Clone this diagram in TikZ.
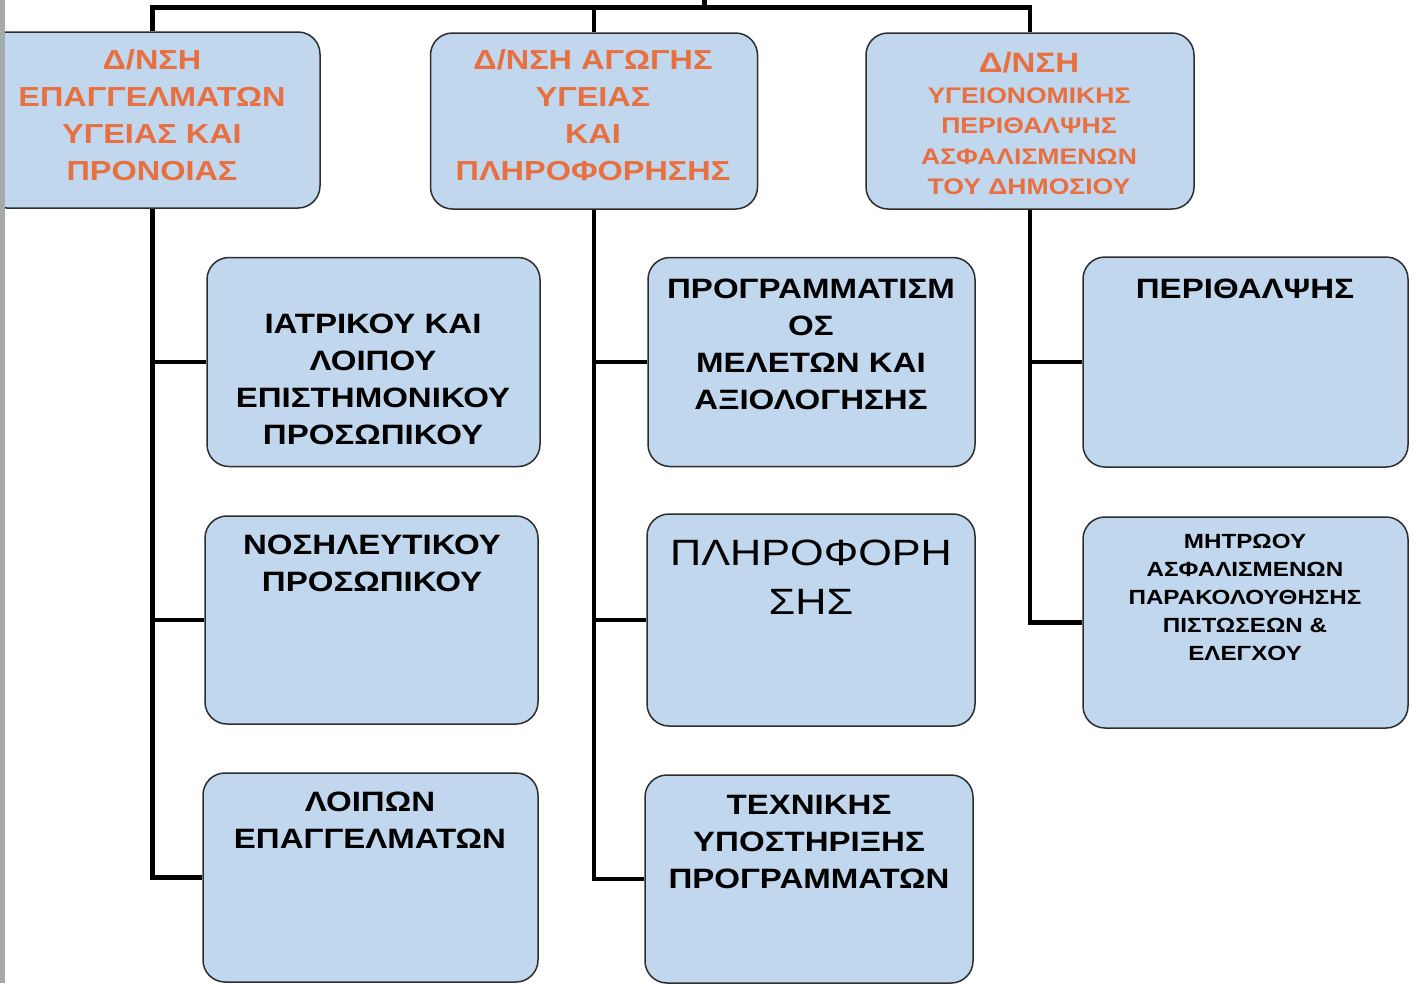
\documentclass[tikz,border=0pt]{standalone}
\usepackage{fontspec}
\newfontfamily\boxfont{Liberation Sans}[FakeStretch=1.18]
\definecolor{boxfill}{RGB}{193,215,238}
\definecolor{boxline}{RGB}{45,45,45}
\definecolor{headtext}{RGB}{232,112,64}
\definecolor{edgegray}{RGB}{165,170,170}
\tikzset{
  unitbox/.style={draw=boxline, line width=1.5pt, fill=boxfill, rounded corners=22pt,
    inner sep=0pt},
  headlbl/.style={text=headtext, align=center, inner sep=0pt,
    font=\boxfont\bfseries\fontsize{27.5}{37}\selectfont},
  unitlbl/.style={text=black, align=center, inner sep=0pt,
    font=\boxfont\bfseries\fontsize{28}{37}\selectfont},
  wire/.style={line width=4.5pt, black, line join=miter}
}
\begin{document}
\begin{tikzpicture}[x=1pt, y=-1pt]
\useasboundingbox (0,0) rectangle (1416,983);
\clip (0,0) rectangle (1416,983);
\fill[white] (0,0) rectangle (1416,983);

% directorates
\node[unitbox, minimum width=335pt, minimum height=176pt] (d1) at (152.5,120) {};
\node[unitbox, minimum width=327pt, minimum height=176pt] (d2) at (594,121) {};
\node[unitbox, minimum width=328pt, minimum height=176pt] (d3) at (1030,121) {};

% departments
\node[unitbox, minimum width=333pt, minimum height=209pt] (a1) at (373.5,362) {};
\node[unitbox, minimum width=333pt, minimum height=208pt] (a2) at (371.5,620) {};
\node[unitbox, minimum width=335pt, minimum height=209pt] (a3) at (370.5,877.5) {};
\node[unitbox, minimum width=327pt, minimum height=209pt] (b1) at (811.5,362) {};
\node[unitbox, minimum width=328pt, minimum height=212pt] (b2) at (811,620) {};
\node[unitbox, minimum width=328pt, minimum height=208pt] (b3) at (809,879) {};
\node[unitbox, minimum width=325pt, minimum height=210pt] (c1) at (1245.5,362) {};
\node[unitbox, minimum width=325pt, minimum height=211pt] (c2) at (1245.5,622.5) {};

% connectors
\coordinate (root) at (704.5,-5);
\coordinate (bus) at (0,7.5);
\draw[wire] (d1.north) -- (d1.north |- bus) -- (d3.north |- bus) -- (d3.north);
\draw[wire] (d2.north) -- (d2.north |- bus);
\draw[wire] (root) -- (root |- bus);
\draw[wire] (d1.south) -- (d1.south |- a3.west) -- (a3.west);
\draw[wire] (d1.south |- a1.west) -- (a1.west);
\draw[wire] (d1.south |- a2.west) -- (a2.west);
\draw[wire] (d2.south) -- (d2.south |- b3.west) -- (b3.west);
\draw[wire] (d2.south |- b1.west) -- (b1.west);
\draw[wire] (d2.south |- b2.west) -- (b2.west);
\draw[wire] (d3.south) -- (d3.south |- c2.west) -- (c2.west);
\draw[wire] (d3.south |- c1.west) -- (c1.west);

% labels
\node[headlbl] (t-d1) at (152,115) {Δ/ΝΣΗ\\ΕΠΑΓΓΕΛΜΑΤΩΝ\\ΥΓΕΙΑΣ ΚΑΙ\\ΠΡΟΝΟΙΑΣ};
\node[headlbl] (t-d2) at (593,115.5) {Δ/ΝΣΗ ΑΓΩΓΗΣ\\ΥΓΕΙΑΣ\\ΚΑΙ\\ΠΛΗΡΟΦΟΡΗΣΗΣ};
\node[headlbl, font=\boxfont\bfseries\fontsize{22.5}{30.5}\selectfont] (t-d3) at (1029,123.5)
  {{\fontsize{28}{30.5}\selectfont Δ/ΝΣΗ}\\ΥΓΕΙΟΝΟΜΙΚΗΣ\\ΠΕΡΙΘΑΛΨΗΣ\\ΑΣΦΑΛΙΣΜΕΝΩΝ\\ΤΟΥ ΔΗΜΟΣΙΟΥ};

\node[unitlbl] (t-a1) at (373,379.5) {ΙΑΤΡΙΚΟΥ ΚΑΙ\\ΛΟΙΠΟΥ\\ΕΠΙΣΤΗΜΟΝΙΚΟΥ\\ΠΡΟΣΩΠΙΚΟΥ};
\node[unitlbl] (t-a2) at (372,563.5) {ΝΟΣΗΛΕΥΤΙΚΟΥ\\ΠΡΟΣΩΠΙΚΟΥ};
\node[unitlbl] (t-a3) at (370,820) {ΛΟΙΠΩΝ\\ΕΠΑΓΓΕΛΜΑΤΩΝ};
\node[unitlbl] (t-b1) at (811,344) {ΠΡΟΓΡΑΜΜΑΤΙΣΜ\\ΟΣ\\ΜΕΛΕΤΩΝ ΚΑΙ\\ΑΞΙΟΛΟΓΗΣΗΣ};
\node[unitlbl, font=\boxfont\fontsize{36.6}{49}\selectfont] (t-b2) at (811,577.5) {ΠΛΗΡΟΦΟΡΗ\\ΣΗΣ};
\node[unitlbl] (t-b3) at (809,841.5) {ΤΕΧΝΙΚΗΣ\\ΥΠΟΣΤΗΡΙΞΗΣ\\ΠΡΟΓΡΑΜΜΑΤΩΝ};
\node[unitlbl] (t-c1) at (1245,289) {ΠΕΡΙΘΑΛΨΗΣ};
\node[unitlbl, font=\boxfont\bfseries\fontsize{20.5}{27.8}\selectfont] (t-c2) at (1245,597.5)
  {ΜΗΤΡΩΟΥ\\ΑΣΦΑΛΙΣΜΕΝΩΝ\\ΠΑΡΑΚΟΛΟΥΘΗΣΗΣ\\ΠΙΣΤΩΣΕΩΝ \&\\ΕΛΕΓΧΟΥ};

% scanned page edge
\fill[edgegray] (0,0) rectangle (4.5,983);
\end{tikzpicture}
\end{document}
